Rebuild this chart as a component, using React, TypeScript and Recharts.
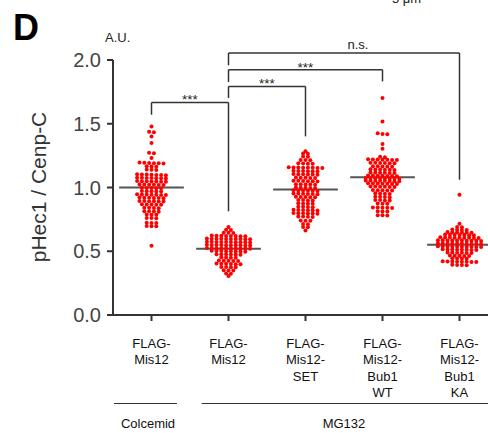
import React from 'react';
import { ScatterChart, Scatter, XAxis, YAxis, ReferenceLine } from 'recharts';

// ---------- data ----------
const categoryLabels: string[][] = [
  ['FLAG-', 'Mis12'],
  ['FLAG-', 'Mis12'],
  ['FLAG-', 'Mis12-', 'SET'],
  ['FLAG-', 'Mis12-', 'Bub1', 'WT'],
  ['FLAG-', 'Mis12-', 'Bub1', 'KA'],
];

const treatmentLabels = ['Colcemid', 'MG132'];

const colcemidMis12 = [
  1.479,
  1.437, 1.433,
  1.400,
  1.349,
  1.272, 1.268,
  1.231,
  1.194, 1.191, 1.196, 1.189, 1.193, 1.190,
  1.166, 1.163, 1.165,
  1.141, 1.138, 1.140,
  1.102, 1.099, 1.101, 1.097, 1.100, 1.103, 1.098,
  1.076, 1.073, 1.075, 1.072, 1.074, 1.077, 1.071,
  1.049, 1.046, 1.050, 1.047, 1.048, 1.045, 1.051,
  1.023, 1.020, 1.024, 1.021, 1.022, 1.019,
  0.997, 0.995, 0.998, 0.994, 0.996,
  0.971, 0.969, 0.972, 0.968, 0.970,
  0.945, 0.943, 0.946, 0.942, 0.944, 0.947, 0.941,
  0.919, 0.917, 0.920, 0.916, 0.918, 0.921,
  0.893, 0.891, 0.894, 0.890, 0.892, 0.895,
  0.867, 0.865, 0.868, 0.864, 0.866,
  0.841, 0.839, 0.842, 0.838,
  0.813, 0.811, 0.814, 0.810,
  0.788, 0.786, 0.787,
  0.761, 0.759, 0.760,
  0.723, 0.721, 0.722,
  0.698, 0.696, 0.697,
  0.544,
];

const mg132Mis12 = [
  0.690,
  0.669, 0.667,
  0.646, 0.644, 0.645,
  0.621, 0.619, 0.622, 0.618, 0.620, 0.623, 0.617, 0.620,
  0.598, 0.596, 0.599, 0.595, 0.597, 0.600, 0.594, 0.598, 0.596, 0.597,
  0.573, 0.571, 0.574, 0.570, 0.572, 0.575, 0.569, 0.573, 0.571, 0.572,
  0.549, 0.547, 0.550, 0.546, 0.548, 0.551, 0.545, 0.549, 0.547, 0.548,
  0.524, 0.522, 0.525, 0.521, 0.523, 0.526, 0.520, 0.524, 0.522, 0.523,
  0.501, 0.499, 0.502, 0.498, 0.500, 0.503, 0.497, 0.500,
  0.476, 0.474, 0.477, 0.473, 0.475, 0.476,
  0.451, 0.449, 0.450, 0.452,
  0.426, 0.424, 0.427, 0.423, 0.425,
  0.401, 0.399, 0.402, 0.398, 0.400, 0.403,
  0.376, 0.374, 0.375, 0.377,
  0.351, 0.349, 0.350,
  0.326, 0.324,
  0.305,
];

const mg132Mis12Set = [
  1.285,
  1.266, 1.264,
  1.244, 1.242,
  1.216, 1.214, 1.215,
  1.189, 1.187, 1.190, 1.186,
  1.156, 1.154, 1.157, 1.153, 1.155, 1.158, 1.152, 1.155,
  1.129, 1.127, 1.130, 1.126, 1.128, 1.131,
  1.103, 1.101, 1.104, 1.100, 1.102, 1.105,
  1.077, 1.075, 1.078, 1.074, 1.076,
  1.051, 1.049, 1.052, 1.048, 1.050, 1.053,
  1.025, 1.023, 1.026, 1.022, 1.024,
  0.999, 0.997, 1.000, 0.996, 0.998,
  0.976, 0.974, 0.977, 0.973, 0.975, 0.978,
  0.951, 0.949, 0.952, 0.948, 0.950, 0.953,
  0.926, 0.924, 0.927, 0.923, 0.925,
  0.901, 0.899, 0.902, 0.898,
  0.875, 0.873, 0.876, 0.872,
  0.849, 0.847, 0.850, 0.846,
  0.823, 0.821, 0.824, 0.820, 0.822, 0.825,
  0.798, 0.796, 0.799, 0.795, 0.797, 0.800,
  0.772, 0.770, 0.773, 0.769,
  0.741, 0.739, 0.740,
  0.713, 0.711,
  0.691, 0.689,
  0.662,
];

const mg132Bub1Wt = [
  1.702,
  1.518,
  1.426, 1.420, 1.417,
  1.341,
  1.304,
  1.241, 1.238,
  1.219, 1.217, 1.220, 1.216, 1.218, 1.221, 1.215,
  1.193, 1.191, 1.194, 1.190, 1.192, 1.195,
  1.166, 1.164, 1.167, 1.163, 1.165,
  1.141, 1.139, 1.142, 1.138, 1.140, 1.143,
  1.116, 1.114, 1.117, 1.113, 1.115, 1.118,
  1.093, 1.091, 1.094, 1.090, 1.092, 1.095, 1.089,
  1.073, 1.071, 1.074, 1.070, 1.072, 1.075, 1.069, 1.072,
  1.053, 1.051, 1.054, 1.050, 1.052, 1.055, 1.049, 1.052,
  1.031, 1.029, 1.032, 1.028, 1.030, 1.033, 1.027,
  1.006, 1.004, 1.007, 1.003, 1.005, 1.008,
  0.979, 0.977, 0.980, 0.976, 0.978,
  0.953, 0.951, 0.954, 0.950,
  0.927, 0.925, 0.928, 0.924,
  0.901, 0.899, 0.902, 0.898,
  0.874, 0.872, 0.873,
  0.843, 0.841, 0.844, 0.840, 0.842,
  0.813, 0.811, 0.812,
  0.783, 0.781, 0.782,
];

const mg132Bub1Ka = [
  0.944,
  0.716,
  0.691, 0.689,
  0.669, 0.667, 0.670, 0.666,
  0.649, 0.647, 0.650, 0.646, 0.648, 0.651,
  0.629, 0.627, 0.630, 0.626, 0.628, 0.631, 0.625,
  0.607, 0.605, 0.608, 0.604, 0.606, 0.609, 0.603, 0.606, 0.605,
  0.585, 0.583, 0.586, 0.582, 0.584, 0.587, 0.581, 0.584, 0.583, 0.585,
  0.561, 0.559, 0.562, 0.558, 0.560, 0.563, 0.557, 0.560, 0.559, 0.561,
  0.537, 0.535, 0.538, 0.534, 0.536, 0.539, 0.533, 0.536, 0.535, 0.537,
  0.513, 0.511, 0.514, 0.510, 0.512, 0.515, 0.509, 0.512,
  0.489, 0.487, 0.490, 0.486, 0.488, 0.491,
  0.465, 0.463, 0.466, 0.462, 0.464,
  0.445, 0.443, 0.444, 0.442,
  0.419, 0.417, 0.420, 0.416, 0.418, 0.421, 0.415, 0.418,
  0.393, 0.391, 0.392, 0.394,
];

const groups = [colcemidMis12, mg132Mis12, mg132Mis12Set, mg132Bub1Wt, mg132Bub1Ka];

const medians = [1.0, 0.52, 0.985, 1.08, 0.551];

const yTicks = [0, 0.5, 1.0, 1.5, 2.0];

// significance brackets: compared groups, bracket level and leg ends (A.U.)
const brackets = [
  { from: 0, to: 1, level: 1.667, fromEnd: 1.571, toEnd: 0.813, text: '***' },
  { from: 1, to: 2, level: 1.793, fromEnd: 1.702, toEnd: 1.401, text: '***' },
  { from: 1, to: 3, level: 1.924, fromEnd: 1.827, toEnd: 1.832, text: '***' },
  { from: 1, to: 4, level: 2.055, fromEnd: 1.958, toEnd: 1.061, text: 'n.s.' },
];

// ---------- layout helpers ----------
const FONT = '"Liberation Sans", Arial, Helvetica, sans-serif';
const PX_PER_X_UNIT = 77;
const DOT_SPACING_PX = 4.8;
const MEDIAN_HALF = 0.42;
const AXIS_COLOR = '#333';

type Pt = { x: number; y: number };

function swarm(values: number[], g: number): Pt[] {
  const sorted = [...values].sort((a, b) => b - a);
  const rows: number[][] = [];
  for (const v of sorted) {
    const row = rows[rows.length - 1];
    if (row && row[0] - v <= 0.01) row.push(v);
    else rows.push([v]);
  }
  const pts: Pt[] = [];
  rows.forEach((row) => {
    row.forEach((v, i) => {
      pts.push({ x: g + ((i - (row.length - 1) / 2) * DOT_SPACING_PX) / PX_PER_X_UNIT, y: v });
    });
  });
  return pts;
}

const XTick = (props: any) => {
  const { x, y, payload } = props;
  const lines = categoryLabels[payload.value] ?? [];
  return (
    <text x={x} y={y + 25} textAnchor="middle" fontSize={13} fill="#111" fontFamily={FONT}>
      {lines.map((l, i) => (
        <tspan key={i} x={x} dy={i === 0 ? 0 : 16.3}>
          {l}
        </tspan>
      ))}
    </text>
  );
};

const Dot = (p: any) => <circle cx={p.cx} cy={p.cy} r={2.0} fill="#ff0000" />;

export default function App() {
  return (
    <div
      style={{
        position: 'fixed',
        left: 0,
        top: 0,
        width: 488,
        height: 433,
        overflow: 'hidden',
        background: '#fff',
      }}
    >
      <ScatterChart
        width={510}
        height={433}
        margin={{ top: 60, right: 12, bottom: 28, left: 0 }}
      >
        <XAxis
          type="number"
          dataKey="x"
          domain={[-0.5, 4.5]}
          ticks={[0, 1, 2, 3, 4]}
          allowDataOverflow
          height={90}
          tick={<XTick />}
          tickSize={6}
          tickMargin={2}
          axisLine={{ stroke: AXIS_COLOR, strokeWidth: 2 }}
          tickLine={{ stroke: AXIS_COLOR, strokeWidth: 2 }}
        />
        <YAxis
          type="number"
          dataKey="y"
          domain={[0, 2]}
          ticks={yTicks}
          allowDataOverflow
          width={113}
          tickSize={6}
          tickMargin={6}
          tickFormatter={(v: number) => v.toFixed(1)}
          tick={{ fontSize: 20, fill: '#444', fontFamily: FONT }}
          axisLine={{ stroke: AXIS_COLOR, strokeWidth: 2 }}
          tickLine={{ stroke: AXIS_COLOR, strokeWidth: 2 }}
        />
        {groups.map((vals, g) => (
          <Scatter
            key={g}
            data={swarm(vals, g)}
            shape={Dot}
            isAnimationActive={false}
          />
        ))}
        {medians.map((m, g) => (
          <ReferenceLine
            key={'m' + g}
            segment={[
              { x: g - MEDIAN_HALF, y: m },
              { x: g + MEDIAN_HALF, y: m },
            ]}
            stroke="#555"
            strokeWidth={2}
            ifOverflow="visible"
          />
        ))}
        {brackets.map((b, i) => (
          <ReferenceLine
            key={'bh' + i}
            segment={[
              { x: b.from, y: b.level },
              { x: b.to, y: b.level },
            ]}
            stroke={AXIS_COLOR}
            strokeWidth={1.5}
            ifOverflow="visible"
            label={(p: any) => {
              const vb = p.viewBox || {};
              const isStars = b.text === '***';
              const cx = (vb.x ?? 0) + (vb.width ?? 0) / 2 + (isStars ? 0 : 14);
              return (
                <text
                  x={cx}
                  y={(vb.y ?? 0) + (isStars ? 2 : -3.5)}
                  textAnchor="middle"
                  fontSize={isStars ? 13.5 : 13}
                  fill="#222"
                  fontFamily={FONT}
                >
                  {b.text}
                </text>
              );
            }}
          />
        ))}
        {brackets.map((b, i) => (
          <ReferenceLine
            key={'bl' + i}
            segment={[
              { x: b.from, y: b.level },
              { x: b.from, y: b.fromEnd },
            ]}
            stroke={AXIS_COLOR}
            strokeWidth={1.5}
            ifOverflow="visible"
          />
        ))}
        {brackets.map((b, i) => (
          <ReferenceLine
            key={'br' + i}
            segment={[
              { x: b.to, y: b.level },
              { x: b.to, y: b.toEnd },
            ]}
            stroke={AXIS_COLOR}
            strokeWidth={1.5}
            ifOverflow="visible"
          />
        ))}
      </ScatterChart>
      <svg
        width={488}
        height={433}
        style={{ position: 'absolute', left: 0, top: 0, pointerEvents: 'none' }}
      >
        <text x={13} y={40} fontSize={36} fontWeight="bold" fill="#000" fontFamily={FONT}>
          D
        </text>
        <text x={105} y={42} fontSize={13} fill="#222" fontFamily={FONT}>
          A.U.
        </text>
        <text x={392} y={3} fontSize={13} fill="#222" fontFamily={FONT}>
          5 μm
        </text>
        <text
          x={46}
          y={187}
          transform="rotate(-90, 46, 187)"
          textAnchor="middle"
          fontSize={21}
          fill="#333"
          fontFamily={FONT}
        >
          pHec1 / Cenp-C
        </text>
        <line x1={114} x2={177} y1={403.5} y2={403.5} stroke="#333" strokeWidth={1.2} />
        <line x1={201.7} x2={488} y1={403.5} y2={403.5} stroke="#333" strokeWidth={1.2} />
        <text x={148} y={428} textAnchor="middle" fontSize={13} fill="#111" fontFamily={FONT}>
          {treatmentLabels[0]}
        </text>
        <text x={344} y={428} textAnchor="middle" fontSize={13} fill="#111" fontFamily={FONT}>
          {treatmentLabels[1]}
        </text>
      </svg>
    </div>
  );
}
